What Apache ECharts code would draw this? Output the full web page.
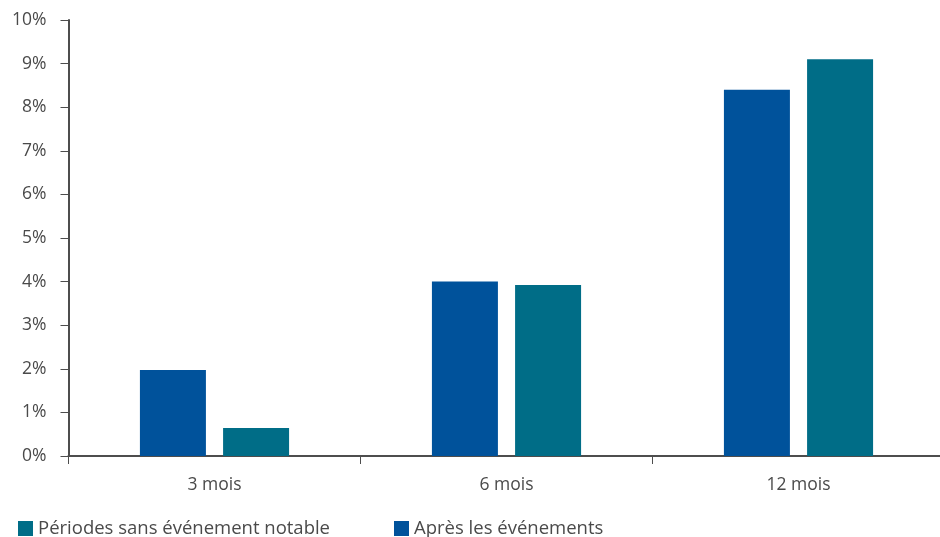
<!DOCTYPE html>
<html><head><meta charset="utf-8">
<script src="https://cdn.jsdelivr.net/npm/echarts@6/dist/echarts.min.js"></script>
<style>html,body{margin:0;padding:0;background:#fff}#c{width:940px;height:537px}</style>
</head><body><div id="c"></div>
<script>
const categories = ['3 mois', '6 mois', '12 mois'];
const apres = [1.97, 4.0, 8.4];
const sansEvenement = [0.64, 3.92, 9.1];
const yTicks = [0, 1, 2, 3, 4, 5, 6, 7, 8, 9, 10];

const chart = echarts.init(document.getElementById('c'));
const font = '"Open Sans", "Liberation Sans", sans-serif';
chart.setOption({
  animation: false,
  textStyle: { fontFamily: font },
  grid: { left: 68.5, width: 876, top: 20, bottom: 81, outerBoundsMode: 'none', containLabel: false },
  legend: {
    data: ['Périodes sans événement notable', 'Après les événements'],
    left: 13, top: 514, itemWidth: 15, itemHeight: 15, itemGap: 64,
    icon: 'rect',
    textStyle: { fontSize: 18.5, color: '#4a4a4a', fontFamily: font }
  },
  xAxis: {
    type: 'category', data: categories,
    axisLine: { lineStyle: { color: '#4d4d4d', width: 2 } },
    axisTick: { show: true, length: 8, lineStyle: { color: '#4d4d4d' } },
    axisLabel: { fontSize: 17.5, color: '#4a4a4a', margin: 20 }
  },
  yAxis: {
    type: 'value', min: yTicks[0], max: yTicks[yTicks.length - 1], interval: 1,
    axisLine: { show: true, lineStyle: { color: '#4d4d4d', width: 2 } },
    axisTick: { show: true, length: 8, lineStyle: { color: '#4d4d4d' } },
    splitLine: { show: false },
    axisLabel: { fontSize: 17.5, color: '#4a4a4a', margin: 22, formatter: v => v + '%' }
  },
  series: [
    { name: 'Après les événements', type: 'bar', data: apres,
      barWidth: 66, barGap: '26%', itemStyle: { color: '#00529b' } },
    { name: 'Périodes sans événement notable', type: 'bar', data: sansEvenement,
      barWidth: 66, itemStyle: { color: '#006d87' } }
  ]
});
</script></body></html>
